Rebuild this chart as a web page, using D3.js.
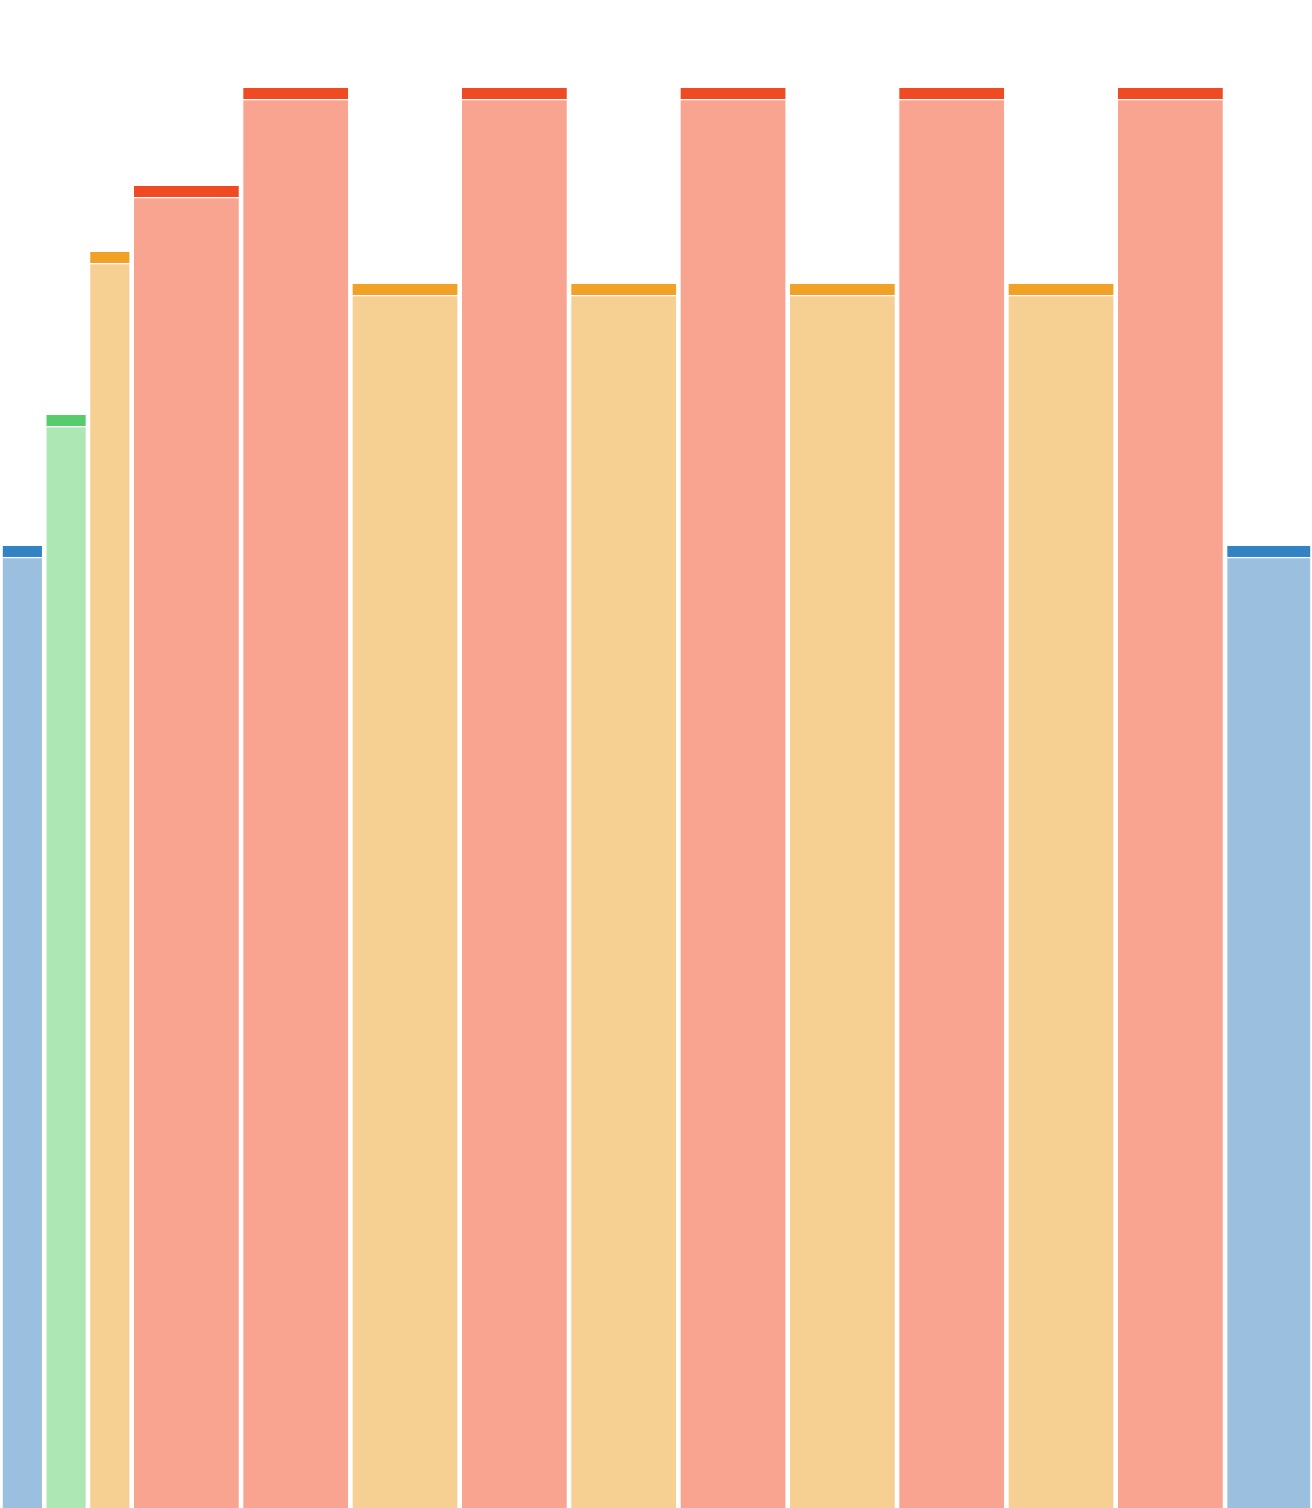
<!DOCTYPE html>
<html>
<head>
<meta charset="utf-8">
<script src="https://cdn.jsdelivr.net/npm/d3@7"></script>
<style>
  html, body { margin: 0; padding: 0; background: #fff; }
  svg { display: block; }
</style>
</head>
<body>
<svg width="1312" height="1508"></svg>
<script>
// one entry per bar, left to right
const kinds = ['cold', 'cool', 'warm', 'hot', 'hot', 'warm', 'hot', 'warm', 'hot', 'warm', 'hot', 'warm', 'hot', 'cold'];
const spans = [1, 1, 1, 2.5, 2.5, 2.5, 2.5, 2.5, 2.5, 2.5, 2.5, 2.5, 2.5, 2];
const values = [67.75, 76.97, 88.45, 93.1, 100, 86.2, 100, 86.2, 100, 86.2, 100, 86.2, 100, 67.75];

const fills = { cold: '#9bbfdf', cool: '#ace7b4', warm: '#f6d092', hot: '#f8a490' };
const caps = { cold: '#3282c4', cool: '#56cc6c', warm: '#f0a126', hot: '#f04a23' };

const width = 1312;
const height = 1508;
const capPx = 11;
const capGap = 1.3;
const inset = 2.3;

const starts = d3.cumsum([0].concat(spans));
const bars = kinds.map((k, i) => ({ kind: k, u0: starts[i], u1: starts[i + 1], value: values[i] }));

const x = d3.scaleLinear().domain([0, d3.sum(spans)]).range([0.5, width + 0.5]);
const y = d3.scaleLinear().domain([0, 100]).range([height, 88]);

const svg = d3.select('svg');

const g = svg.selectAll('g.bar')
      .data(bars)
      .enter()
      .append('g')
      .attr('class', 'bar');

g.append('rect')
      .attr('x', d => x(d.u0) + inset)
      .attr('width', d => x(d.u1) - x(d.u0) - inset * 2)
      .attr('y', d => y(d.value) + capPx + capGap)
      .attr('height', d => height - (y(d.value) + capPx + capGap) + 5)
      .style('fill', d => fills[d.kind]);

g.append('rect')
      .attr('x', d => x(d.u0) + inset)
      .attr('width', d => x(d.u1) - x(d.u0) - inset * 2)
      .attr('y', d => y(d.value))
      .attr('height', capPx)
      .style('fill', d => caps[d.kind]);
</script>
</body>
</html>
